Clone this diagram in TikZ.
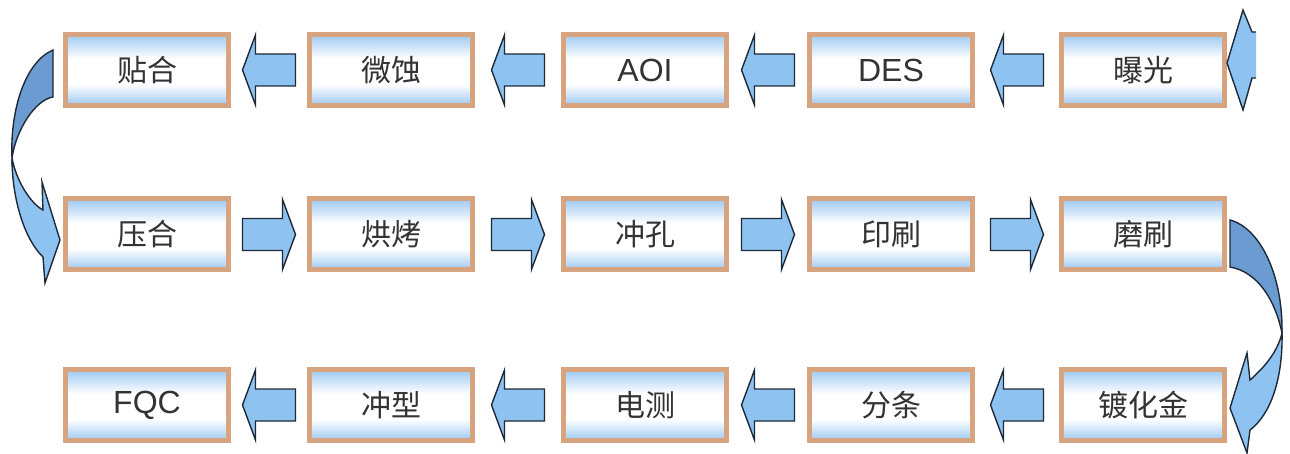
\documentclass[tikz,border=0pt]{standalone}
\usepackage{fontspec}
\setmainfont{Liberation Sans}
\newfontfamily\cjk{Noto Sans CJK SC}
\usetikzlibrary{calc}
\definecolor{boxblue}{HTML}{9CC8F2}
\definecolor{boxedge}{HTML}{D8A47F}
\definecolor{arrfill}{HTML}{8EC2F0}
\definecolor{arrdark}{HTML}{6B9BD1}
\definecolor{arrline}{HTML}{1E2A38}
\definecolor{txt}{HTML}{333333}
\pgfdeclareverticalshading{boxshade}{100bp}{color(0bp)=(boxblue); color(25bp)=(boxblue); color(40bp)=(white); color(58bp)=(white); color(75bp)=(boxblue); color(100bp)=(boxblue)}
\newcommand\leftarr[2]{\draw[blockarrow, shift={($(#1.east)!.5!(#2.west)$)}] (-26.5,0) -- (-13.5,-35) -- (-13.5,-16) -- (26.5,-16) -- (26.5,16) -- (-13.5,16) -- (-13.5,35) -- cycle;}
\newcommand\rightarr[2]{\draw[blockarrow, shift={($(#1.east)!.5!(#2.west)$)}, xscale=-1] (-26.5,0) -- (-13.5,-35) -- (-13.5,-16) -- (26.5,-16) -- (26.5,16) -- (-13.5,16) -- (-13.5,35) -- cycle;}
\begin{document}
\begin{tikzpicture}[x=1pt,y=-1pt,
  procbox/.style={draw=boxedge, line width=5pt, shade, shading=boxshade, minimum width=163pt, minimum height=71pt, inner sep=0pt, text=txt, font=\fontsize{30}{36}\selectfont\cjk},
  latinbox/.style={procbox, font=\fontsize{32}{38}\selectfont},
  blockarrow/.style={fill=arrfill, draw=arrline, line width=1.4pt, line join=miter}]
\useasboundingbox[fill=white] (0,0) rectangle (1290,454);
% row 1
\node[procbox] (a1) at (147,70) {贴合};
\node[procbox] (a2) at (391,70) {微蚀};
\node[latinbox] (a3) at (645,70) {AOI};
\node[latinbox] (a4) at (891,70) {DES};
\node[procbox] (a5) at (1143,70) {曝光};
% row 2
\node[procbox] (b1) at (147,234.5) {压合};
\node[procbox] (b2) at (391,234.5) {烘烤};
\node[procbox] (b3) at (645,234.5) {冲孔};
\node[procbox] (b4) at (891,234.5) {印刷};
\node[procbox] (b5) at (1143,234.5) {磨刷};
% row 3
\node[latinbox] (c1) at (147,405) {FQC};
\node[procbox] (c2) at (391,405) {冲型};
\node[procbox] (c3) at (645,405) {电测};
\node[procbox] (c4) at (891,405) {分条};
\node[procbox] (c5) at (1143,405) {镀化金};
% straight arrows
\leftarr{a1}{a2}\leftarr{a2}{a3}\leftarr{a3}{a4}\leftarr{a4}{a5}
\rightarr{b1}{b2}\rightarr{b2}{b3}\rightarr{b3}{b4}\rightarr{b4}{b5}
\leftarr{c1}{c2}\leftarr{c2}{c3}\leftarr{c3}{c4}\leftarr{c4}{c5}
% left curved arrow
\draw[blockarrow, fill=arrdark] (53,50) .. controls (25,62) and (10,110) .. (12,158) .. controls (16,130) and (35,100) .. (53,97) -- cycle;
\draw[blockarrow] (12,158) .. controls (12,200) and (25,240) .. (43,257) -- (45,283) -- (60,240) -- (42,182) -- (43,210) .. controls (30,203) and (16,180) .. (12,158) -- cycle;
% right curved arrow
\draw[blockarrow, fill=arrdark] (1230,220) .. controls (1260,228) and (1283,275) .. (1282,333) .. controls (1275,300) and (1258,272) .. (1230,267) -- cycle;
\draw[blockarrow] (1282,333) .. controls (1283,380) and (1270,415) .. (1250,430) -- (1247,453) -- (1230,408) -- (1247,353) -- (1250,380) .. controls (1267,365) and (1278,350) .. (1282,333) -- cycle;
% incoming arrow head (cut off)
\fill[arrfill] (1256,32) -- (1252,32) -- (1243,10) -- (1227,63) -- (1243,110) -- (1252,78) -- (1256,78) -- cycle;
\draw[arrline, line width=1.4pt, line join=miter] (1256,32) -- (1252,32) -- (1243,10) -- (1227,63) -- (1243,110) -- (1252,78) -- (1256,78);
\end{tikzpicture}
\end{document}
